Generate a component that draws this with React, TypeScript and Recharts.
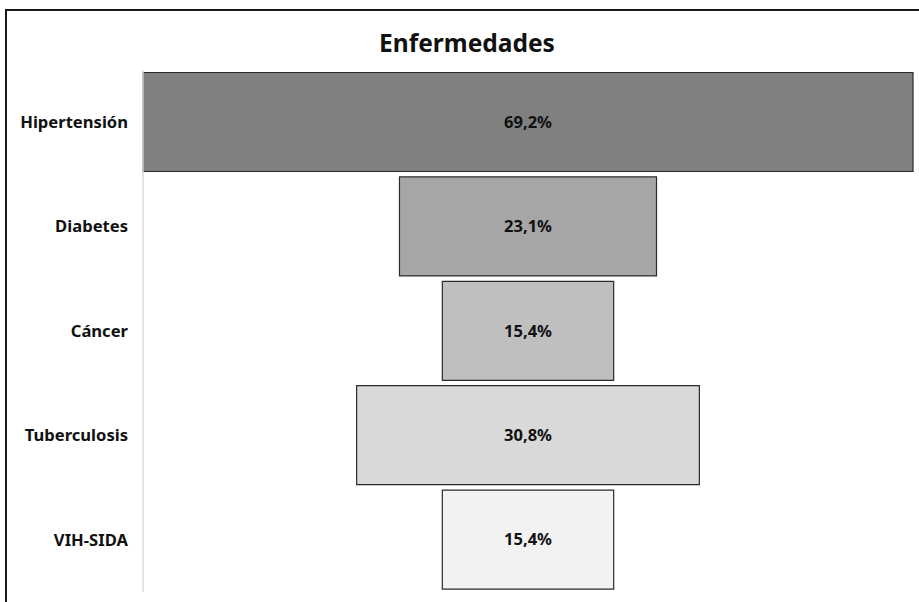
import { Bar, BarChart, Cell, LabelList, XAxis, YAxis } from "recharts"

const categories = ["Hipertensión", "Diabetes", "Cáncer", "Tuberculosis", "VIH-SIDA"]
const percentages = [69.2, 23.1, 15.4, 30.8, 15.4]
const fills = ["#808080", "#a6a6a6", "#bfbfbf", "#d9d9d9", "#f2f2f2"]

const maxValue = Math.max(...percentages)

// funnel: an invisible spacer pushes each bar to the middle
const rows = categories.map((name, i) => ({
    name,
    spacer: (maxValue - percentages[i]) / 2,
    value: percentages[i],
}))

const font = "'Noto Sans', 'DejaVu Sans', sans-serif"

const fmt = (v: any) => `${Number(v).toFixed(1).replace(".", ",")}%`

const App = () => {
    return (
        <div style={{ position: "absolute", left: 0, top: 0, width: 919, height: 602, overflow: "hidden", background: "#fff" }}>
            <div style={{ position: "absolute", left: 5, top: 9, width: 940, height: 620, borderLeft: "2px solid #1a1a1a", borderTop: "2px solid #1a1a1a" }} />
            <div style={{ position: "absolute", left: 0, top: 31, width: 934, textAlign: "center", fontFamily: font, fontWeight: 700, fontSize: 24.5, lineHeight: "24px", color: "#111" }}>
                Enfermedades
            </div>
            <div style={{ position: "absolute", left: 0, top: 0 }}>
                <BarChart width={919} height={602} data={rows} layout="vertical"
                    margin={{ top: 70, right: 6, left: 0, bottom: 10 }}
                    barCategoryGap={2.5}>
                    <XAxis type="number" domain={[0, maxValue]} hide />
                    <YAxis type="category" dataKey="name" width={143} tickLine={false}
                        axisLine={{ stroke: "#d9d9d9", strokeWidth: 1.5 }} tickMargin={9}
                        tick={{ fill: "#111", fontSize: 16.6, fontWeight: 700, fontFamily: font }} />
                    <Bar dataKey="spacer" stackId="f" fill="transparent" isAnimationActive={false} />
                    <Bar dataKey="value" stackId="f" stroke="#2b2b2b" strokeWidth={1.2} isAnimationActive={false}>
                        {rows.map((r, i) => (
                            <Cell key={r.name} fill={fills[i]} />
                        ))}
                        <LabelList dataKey="value" position="center" formatter={fmt}
                            style={{ fill: "#111", fontSize: 16.5, fontWeight: 700, fontFamily: font }} />
                    </Bar>
                </BarChart>
            </div>
        </div>
    )
}
export default App
